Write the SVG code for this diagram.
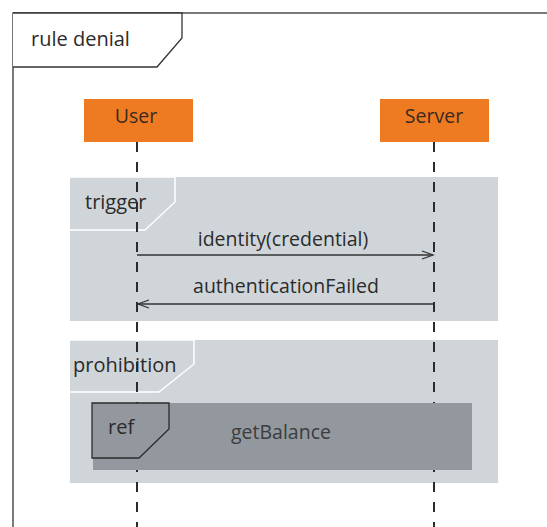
<svg xmlns="http://www.w3.org/2000/svg" width="547" height="527" viewBox="0 0 547 527">
<defs>
<style>
text{font-family:"Open Sans","DejaVu Sans",sans-serif;font-size:19.5px;fill:#2b2b2b}
.frag{fill:#d0d5d9}
.tab{fill:#d0d5d9;stroke:#ffffff;stroke-width:1.5}
.life{stroke:#2b2b2b;stroke-width:2;stroke-dasharray:10 10}
.msg{stroke:#333;stroke-width:1.3;fill:none}
.actor{fill:#ee7b22}
</style>
<marker id="ah" markerWidth="14" markerHeight="12" refX="12" refY="6" orient="auto" markerUnits="userSpaceOnUse">
<path d="M1,2 L12,6 L1,10" fill="none" stroke="#333" stroke-width="1.3"/>
</marker>
</defs>
<rect width="547" height="527" fill="#ffffff"/>
<g id="frame">
<rect x="13" y="13" width="600" height="600" fill="none" stroke="#333" stroke-width="1.3"/>
<path d="M13,13 L182,13 L182,38 L157,67 L13,67" fill="#ffffff" stroke="#333" stroke-width="1.3"/>
<text x="31" y="46" style="font-size:20px">rule denial</text>
</g>
<g id="trigger">
<rect class="frag" x="70" y="177" width="428" height="144"/>
<path class="tab" d="M70,177 L175,177 L175,202 L145,230 L70,230"/>
<text x="85" y="209" style="font-size:20px">trigger</text>
</g>
<g id="prohibition">
<rect class="frag" x="70" y="340" width="428" height="143"/>
<path class="tab" d="M70,340 L194,340 L194,364 L159,392 L70,392"/>
<text x="73" y="372" style="font-size:20px">prohibition</text>
</g>
<g id="lifelines">
<line class="life" x1="137" y1="142" x2="137" y2="527"/>
<line class="life" x1="434" y1="142" x2="434" y2="527"/>
</g>
<g id="User">
<rect class="actor" x="84" y="99" width="109" height="43"/>
<text x="136" y="123" text-anchor="middle" style="fill:#3b2a20">User</text>
</g>
<g id="Server">
<rect class="actor" x="380" y="99" width="109" height="43"/>
<text x="434" y="123" text-anchor="middle" style="fill:#3b2a20">Server</text>
</g>
<g id="connectors">
<line class="msg" x1="137" y1="255" x2="433" y2="255" marker-end="url(#ah)"/>
<text x="283" y="246" text-anchor="middle">identity(credential)</text>
<line class="msg" x1="433" y1="304" x2="138" y2="304" marker-end="url(#ah)"/>
<text x="286" y="293" text-anchor="middle">authenticationFailed</text>
</g>
<g id="ref">
<rect x="93" y="403" width="379" height="67" fill="#93989e"/>
<path d="M92,403 L169,403 L169,429 L139,458 L92,458 Z" fill="#93989e" stroke="#2b2b2b" stroke-width="1.3"/>
<text x="108" y="434" style="font-size:20px">ref</text>
<text x="231" y="439" style="fill:#3a3d40">getBalance</text>
</g>
</svg>
